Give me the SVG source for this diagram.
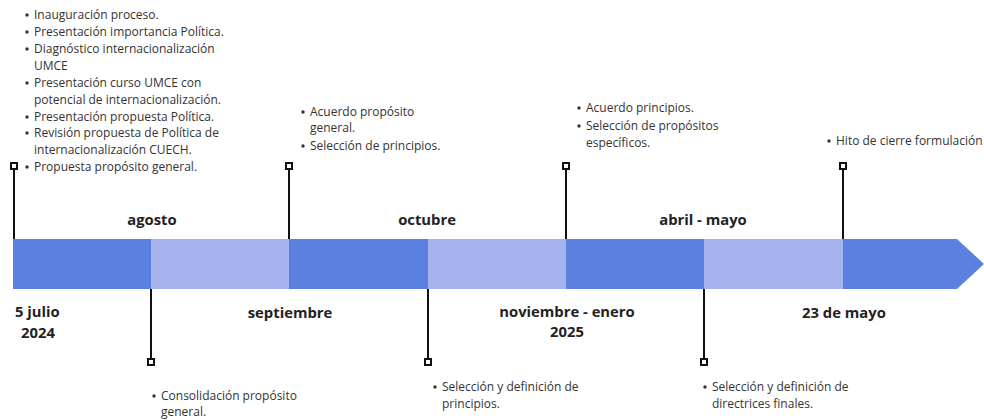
<svg xmlns="http://www.w3.org/2000/svg" width="984" height="420" viewBox="0 0 984 420">
<style>
.t{font-family:"Open Sans","Liberation Sans",sans-serif;font-size:12px;fill:#333}
.b{font-family:"Open Sans","Liberation Sans",sans-serif;font-size:14.8px;font-weight:bold;fill:#222}
.ln{stroke:#111;stroke-width:2;fill:none}
.sq{stroke:#111;stroke-width:2;fill:#fff}
.d{fill:#5b80e0}
.l{fill:#a6b3ec}
.bu{fill:#333}
</style>
<rect width="984" height="420" fill="#fff"/>
<g id="bar">
<polygon class="d" points="843,239 957,239 984,264 957,289 843,289"/>
<rect class="d" x="13" y="239" width="138" height="50"/>
<rect class="l" x="151" y="239" width="138" height="50"/>
<rect class="d" x="289" y="239" width="139" height="50"/>
<rect class="l" x="428" y="239" width="138" height="50"/>
<rect class="d" x="566" y="239" width="138" height="50"/>
<rect class="l" x="704" y="239" width="139" height="50"/>
</g>
<g id="connectors">
<line class="ln" x1="14" y1="170" x2="14" y2="239"/>
<line class="ln" x1="289" y1="170" x2="289" y2="239"/>
<line class="ln" x1="566" y1="170" x2="566" y2="239"/>
<line class="ln" x1="843" y1="170" x2="843" y2="239"/>
<line class="ln" x1="151" y1="289" x2="151" y2="359"/>
<line class="ln" x1="428" y1="289" x2="428" y2="359"/>
<line class="ln" x1="704" y1="289" x2="704" y2="359"/>
<rect class="sq" x="11" y="163" width="6" height="6"/>
<rect class="sq" x="286" y="163" width="6" height="6"/>
<rect class="sq" x="563" y="163" width="6" height="6"/>
<rect class="sq" x="840" y="163" width="6" height="6"/>
<rect class="sq" x="148" y="359" width="6" height="6"/>
<rect class="sq" x="425" y="359" width="6" height="6"/>
<rect class="sq" x="701" y="359" width="6" height="6"/>
</g>
<g id="labels">
<text class="b" x="152" y="225" text-anchor="middle">agosto</text>
<text class="b" x="427" y="225" text-anchor="middle">octubre</text>
<text class="b" x="703" y="225" text-anchor="middle">abril - mayo</text>
<text class="b" x="15" y="317">5 julio</text>
<text class="b" x="21" y="338">2024</text>
<text class="b" x="290" y="318" text-anchor="middle">septiembre</text>
<text class="b" x="567" y="317" text-anchor="middle">noviembre - enero</text>
<text class="b" x="567" y="337" text-anchor="middle">2025</text>
<text class="b" x="844" y="318" text-anchor="middle">23 de mayo</text>
</g>
<g id="note-julio">
<circle class="bu" cx="27" cy="15" r="1.7"/>
<circle class="bu" cx="27" cy="32" r="1.7"/>
<circle class="bu" cx="27" cy="49" r="1.7"/>
<circle class="bu" cx="27" cy="83" r="1.7"/>
<circle class="bu" cx="27" cy="117" r="1.7"/>
<circle class="bu" cx="27" cy="133" r="1.7"/>
<circle class="bu" cx="27" cy="167" r="1.7"/>
<text class="t" x="34" y="19">Inauguración proceso.</text>
<text class="t" x="34" y="36">Presentación importancia Política.</text>
<text class="t" x="34" y="53">Diagnóstico internacionalización</text>
<text class="t" x="34" y="70">UMCE</text>
<text class="t" x="34" y="87">Presentación curso UMCE con</text>
<text class="t" x="34" y="104">potencial de internacionalización.</text>
<text class="t" x="34" y="121">Presentación propuesta Política.</text>
<text class="t" x="34" y="137">Revisión propuesta de Política de</text>
<text class="t" x="34" y="154">internacionalización CUECH.</text>
<text class="t" x="34" y="171">Propuesta propósito general.</text>
</g>
<g id="note-septiembre">
<circle class="bu" cx="303" cy="112" r="1.7"/>
<circle class="bu" cx="303" cy="146" r="1.7"/>
<text class="t" x="310" y="116">Acuerdo propósito</text>
<text class="t" x="310" y="132">general.</text>
<text class="t" x="310" y="150">Selección de principios.</text>
</g>
<g id="note-noviembre">
<circle class="bu" cx="579" cy="108" r="1.7"/>
<circle class="bu" cx="579" cy="126" r="1.7"/>
<text class="t" x="586" y="112">Acuerdo principios.</text>
<text class="t" x="586" y="130">Selección de propósitos</text>
<text class="t" x="586" y="147">específicos.</text>
</g>
<g id="note-mayo">
<circle class="bu" cx="829" cy="141" r="1.7"/>
<text class="t" x="836" y="145">Hito de cierre formulación</text>
</g>
<g id="note-agosto">
<circle class="bu" cx="154" cy="396" r="1.7"/>
<text class="t" x="161" y="400">Consolidación propósito</text>
<text class="t" x="161" y="416">general.</text>
</g>
<g id="note-octubre">
<circle class="bu" cx="435" cy="387" r="1.7"/>
<text class="t" x="442" y="391">Selección y definición de</text>
<text class="t" x="442" y="408">principios.</text>
</g>
<g id="note-abril">
<circle class="bu" cx="705" cy="387" r="1.7"/>
<text class="t" x="712" y="391">Selección y definición de</text>
<text class="t" x="712" y="408">directrices finales.</text>
</g>
</svg>
